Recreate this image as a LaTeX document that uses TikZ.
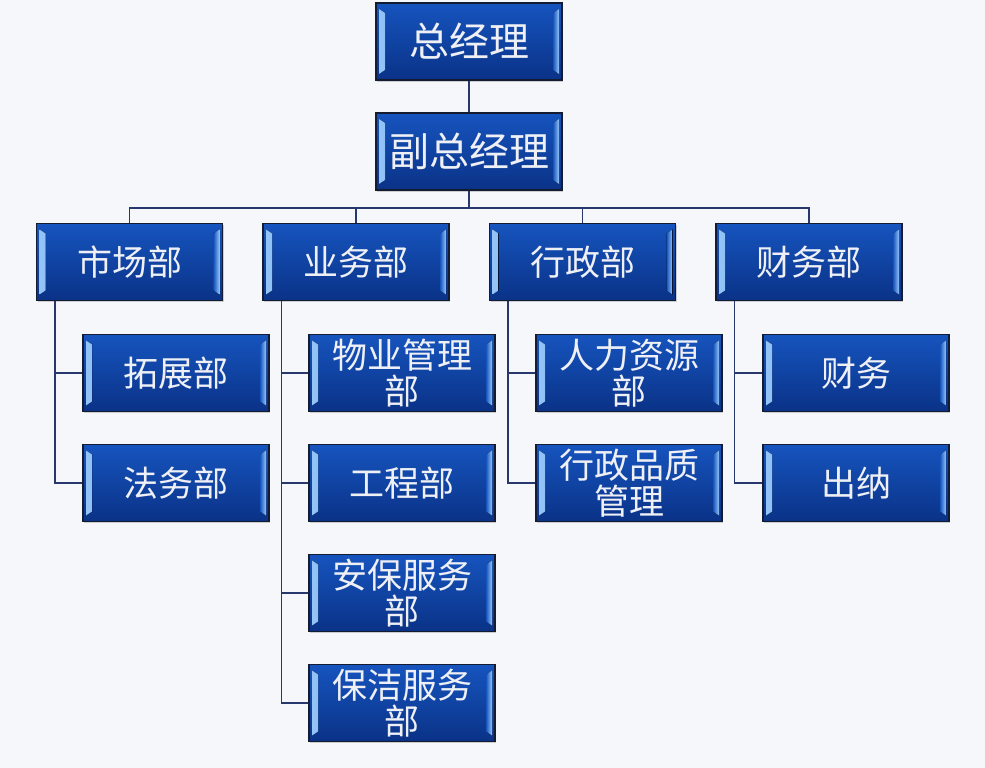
\documentclass[tikz,border=0pt]{standalone}
\usepackage{fontspec}
\usepackage{xcolor}
\usepackage{tikz}
\usetikzlibrary{shadows}
\newfontfamily\cjk{Noto Sans CJK SC}

\tikzset{
  orgbox/.style={draw=drawColor, line width=1.2pt, top color=boxTop, bottom color=boxBottom,
    minimum width=186pt, minimum height=77pt, inner sep=0pt, text=textColor, align=center,
    font=\cjk\fontsize{35}{36}\selectfont,
    drop shadow={shadow xshift=1pt, shadow yshift=-2pt, opacity=0.35},
    path picture={
      \fill[left color=bevelLight, right color=boxTop] ([xshift=3pt,yshift=-6pt]path picture bounding box.north west) -- ([xshift=9pt,yshift=-10pt]path picture bounding box.north west) -- ([xshift=9pt,yshift=10pt]path picture bounding box.south west) -- ([xshift=3pt,yshift=6pt]path picture bounding box.south west) -- cycle;
      \fill[right color=bevelLight, left color=boxTop] ([xshift=-3pt,yshift=-6pt]path picture bounding box.north east) -- ([xshift=-9pt,yshift=-10pt]path picture bounding box.north east) -- ([xshift=-9pt,yshift=10pt]path picture bounding box.south east) -- ([xshift=-3pt,yshift=6pt]path picture bounding box.south east) -- cycle;
    }},
  toplabel/.style={font=\cjk\fontsize{40}{42}\selectfont},
  linkline/.style={draw=lineColor, line width=1.6pt}
}

\begin{document}
\begin{tikzpicture}[x=1pt,y=1pt]
\definecolor{bgColor}{RGB}{245,247,250}
\definecolor{drawColor}{RGB}{20,28,50}
\definecolor{boxTop}{RGB}{22,84,190}
\definecolor{boxBottom}{RGB}{10,50,135}
\definecolor{bevelLight}{RGB}{150,198,248}
\definecolor{textColor}{RGB}{238,240,245}
\definecolor{lineColor}{RGB}{40,56,110}
\path[use as bounding box,fill=bgColor] (0,0) rectangle (985,768);

\node[orgbox,toplabel] (gm) at (469,726.5) {总经理};

\node[orgbox,toplabel] (vgm) at (469,616.5) {副总经理};

\coordinate (bus) at (469,560);

\node[orgbox] (mkt) at (129.5,506) {市场部};

\node[orgbox] (biz) at (356,506) {业务部};

\node[orgbox] (adm) at (582.5,506) {行政部};

\node[orgbox] (fin) at (809,506) {财务部};

\node[orgbox] (expand) at (176,395) {拓展部};

\node[orgbox] (legal) at (176,285) {法务部};

\node[orgbox] (property) at (402,395) {物业管理\\部};

\node[orgbox] (engineer) at (402,285) {工程部};

\node[orgbox] (security) at (402,175) {安保服务\\部};

\node[orgbox] (cleaning) at (402,65) {保洁服务\\部};

\node[orgbox] (hr) at (629,395) {人力资源\\部};

\node[orgbox] (quality) at (629,285) {行政品质\\管理};

\node[orgbox] (account) at (856,395) {财务};

\node[orgbox] (cashier) at (856,285) {出纳};

\path[linkline] (gm) -- (vgm);

\path[linkline] (vgm) -- (bus);

\path[linkline] (mkt.north) |- (bus) -| (fin.north);

\path[linkline] (biz.north) -- (biz.north |- bus);

\path[linkline] (adm.north) -- (adm.north |- bus);

\path[linkline] ([xshift=19pt]mkt.south west) |- (expand.west);

\path[linkline] ([xshift=19pt]mkt.south west) |- (legal.west);

\path[linkline] ([xshift=19pt]biz.south west) |- (property.west);

\path[linkline] ([xshift=19pt]biz.south west) |- (engineer.west);

\path[linkline] ([xshift=19pt]biz.south west) |- (security.west);

\path[linkline] ([xshift=19pt]biz.south west) |- (cleaning.west);

\path[linkline] ([xshift=19pt]adm.south west) |- (hr.west);

\path[linkline] ([xshift=19pt]adm.south west) |- (quality.west);

\path[linkline] ([xshift=19pt]fin.south west) |- (account.west);

\path[linkline] ([xshift=19pt]fin.south west) |- (cashier.west);
\end{tikzpicture}
\end{document}
